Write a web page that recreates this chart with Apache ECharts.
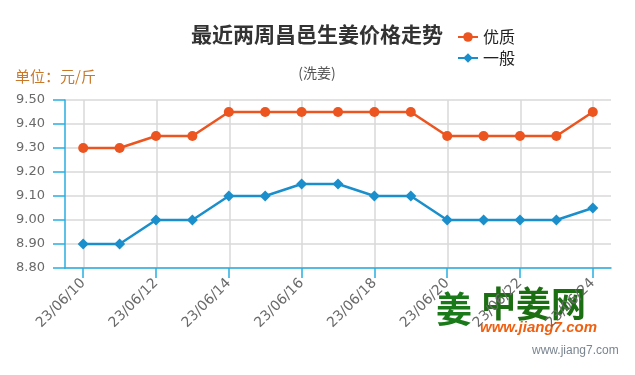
<!DOCTYPE html>
<html><head><meta charset="utf-8">
<script src="https://cdn.jsdelivr.net/npm/echarts@6/dist/echarts.min.js"></script>
<style>html,body{margin:0;padding:0;background:#fff;}#c{width:635px;height:375px;}</style>
</head><body><div id="c"></div>
<script>
const categories = ['23/06/10','23/06/11','23/06/12','23/06/13','23/06/14','23/06/15','23/06/16','23/06/17','23/06/18','23/06/19','23/06/20','23/06/21','23/06/22','23/06/23','23/06/24'];
const premium = [9.30, 9.30, 9.35, 9.35, 9.45, 9.45, 9.45, 9.45, 9.45, 9.45, 9.35, 9.35, 9.35, 9.35, 9.45];
const ordinary = [8.90, 8.90, 9.00, 9.00, 9.10, 9.10, 9.15, 9.15, 9.10, 9.10, 9.00, 9.00, 9.00, 9.00, 9.05];
const seriesNames = ['优质', '一般'];

const chart = echarts.init(document.getElementById('c'), null, {renderer: 'canvas'});
const axisBlue = '#29aee0';
const gridGray = '#d8d8d8';
const font = '"Noto Sans CJK SC", "Open Sans", sans-serif';
const numFont = '"DejaVu Sans", sans-serif';
chart.setOption({
  animation: false,
  textStyle: {fontFamily: font},
  title: [{
    text: '最近两周昌邑生姜价格走势',
    left: 312, top: 19, textAlign: 'center',
    textStyle: {fontSize: 21, fontWeight: 'bold', color: '#333', fontFamily: font}
  }, {
    text: '(洗姜)',
    left: 312, top: 61, textAlign: 'center',
    textStyle: {fontSize: 14, fontWeight: 'normal', color: '#555', fontFamily: font}
  }, {
    text: '单位：元/斤',
    left: 10, top: 64,
    textStyle: {fontSize: 15, fontWeight: 'normal', color: '#c9782a', fontFamily: font}
  }],
  legend: {
    orient: 'vertical', left: 452, top: 24, itemGap: 5,
    itemWidth: 20, itemHeight: 12,
    textStyle: {fontSize: 16, color: '#222', fontFamily: font},
    data: seriesNames
  },
  grid: [
    {left: 65, right: 24, top: 100, bottom: 107},
    {left: 84, right: 42, top: 100, bottom: 107}
  ],
  xAxis: [{
    type: 'category', data: categories, boundaryGap: true, gridIndex: 0,
    axisLine: {lineStyle: {color: axisBlue, width: 1.5}},
    axisTick: {show: true, alignWithLabel: true, interval: 1, length: 10, lineStyle: {color: axisBlue, width: 1.5}},
    axisLabel: {interval: 1, rotate: 45, color: '#6a6a6a', fontSize: 14, margin: 13, fontFamily: numFont},
    splitLine: {show: false}
  }, {
    type: 'category', data: categories, boundaryGap: false, gridIndex: 1,
    axisLine: {show: false}, axisTick: {show: false}, axisLabel: {show: false},
    splitLine: {show: true, interval: 1, lineStyle: {color: gridGray, width: 1.5}}
  }],
  yAxis: [{
    type: 'value', min: 8.8, max: 9.5, interval: 0.1, gridIndex: 0,
    axisLine: {show: true, lineStyle: {color: axisBlue, width: 1.5}},
    axisTick: {show: true, length: 12, lineStyle: {color: axisBlue, width: 1.5}},
    axisLabel: {color: '#6a6a6a', fontSize: 13, margin: 20, formatter: v => v.toFixed(2), fontFamily: numFont},
    splitLine: {show: true, lineStyle: {color: gridGray, width: 1.5}}
  }, {
    type: 'value', min: 8.8, max: 9.5, interval: 0.1, gridIndex: 1, show: false
  }],
  series: [{
    name: seriesNames[0], type: 'line', data: premium,
    symbol: 'circle', symbolSize: 10,
    lineStyle: {color: '#ec5420', width: 2.5},
    itemStyle: {color: '#ec5420'}, z: 3
  }, {
    name: seriesNames[1], type: 'line', data: ordinary,
    symbol: 'diamond', symbolSize: 11,
    lineStyle: {color: '#1a8fcb', width: 2.5},
    itemStyle: {color: '#1a8fcb'}, z: 3
  }],
  graphic: [{
    type: 'text', left: 436, top: 291,
    style: {text: '姜', font: 'bold 36px "Noto Sans CJK SC"', fill: '#1a7a1a'}
  }, {
    type: 'text', left: 481, top: 286,
    style: {text: '中姜网', font: 'bold 35px "Noto Sans CJK SC"', fill: '#1c6e12'}
  }, {
    type: 'text', left: 480, top: 320,
    style: {text: 'www.jiang7.com', font: 'italic bold 15px "Liberation Sans"', fill: '#f06010'}
  }, {
    type: 'text', left: 532, top: 345,
    style: {text: 'www.jiang7.com', font: '12px "Liberation Sans"', fill: '#7a8590'}
  }]
});
</script></body></html>
